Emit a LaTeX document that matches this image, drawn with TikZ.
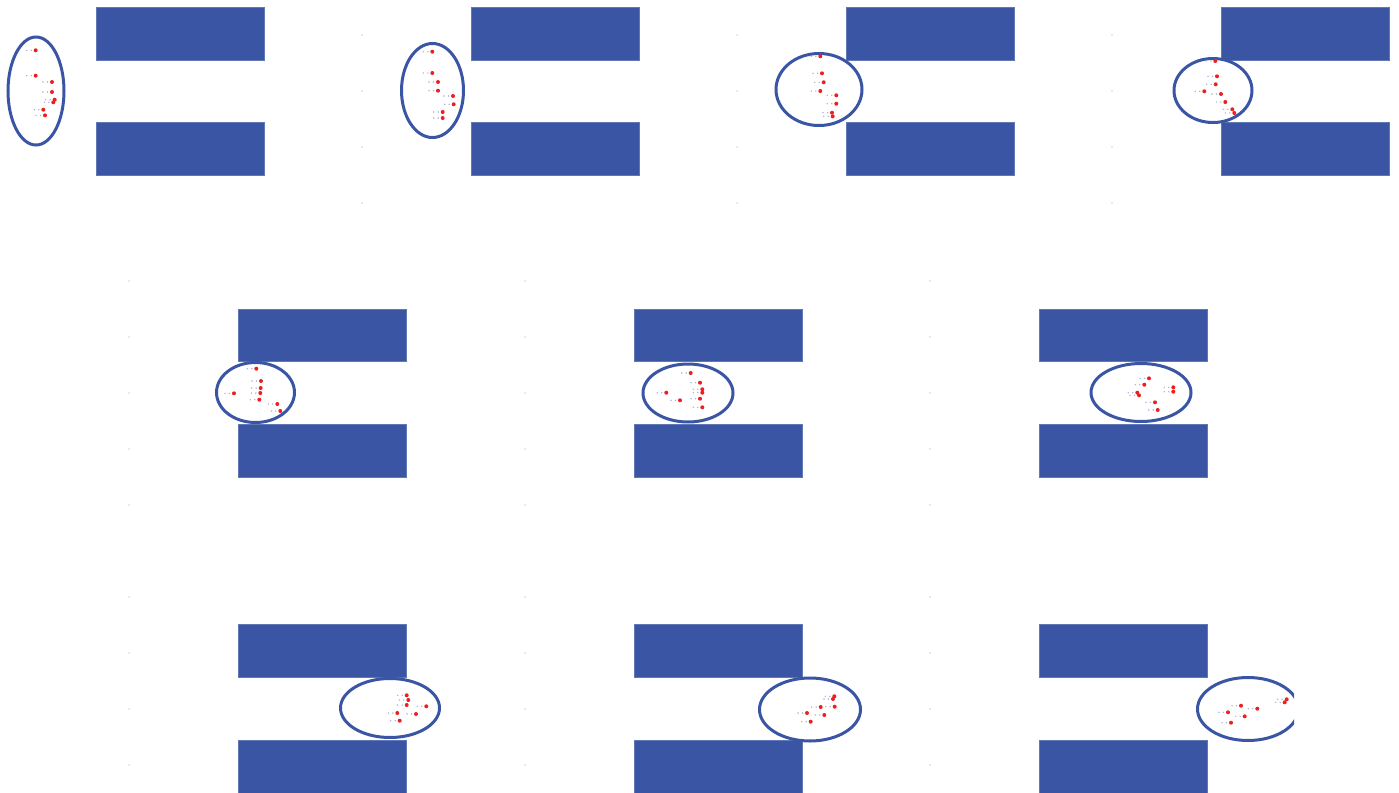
\documentclass[tikz,border=0pt]{standalone}
\definecolor{barblue}{RGB}{58,85,164}
\definecolor{dotred}{RGB}{240,30,30}
\definecolor{trailc}{RGB}{170,178,215}
\definecolor{tickc}{RGB}{165,165,165}
\tikzset{
  bar/.style={fill=barblue,draw=barblue!80!white,line width=0.4pt},
  ring/.style={draw=barblue,line width=1.5pt},
  reddot/.style={fill=dotred},
  traildot/.style={fill=trailc},
  tick/.style={fill=tickc}
}
\newcommand{\pp}[2]{%
  \fill[traildot] (#1-4.5,#2) circle (0.8);
  \fill[traildot] (#1-9,#2) circle (0.8);
  \fill[reddot] (#1,#2) circle (2);}
\begin{document}
\begin{tikzpicture}[x=0.5pt,y=-0.5pt]
\useasboundingbox (0,0) rectangle (1399,793);
% ---------- row 1 ----------
\foreach \bx in {96,471,846,1221}{
  \fill[bar] (\bx,7) rectangle (\bx+168,60);
  \fill[bar] (\bx,122) rectangle (\bx+168,175);
}
\foreach \tx in {362,737,1112}{
  \foreach \ty in {35,91,147,203}{\fill[tick] (\tx,\ty) circle (0.7);}
}
\draw[ring] (36,91) ellipse (28 and 54);
\draw[ring] (432.5,90.5) ellipse (31 and 47);
\draw[ring] (819,89.5) ellipse (43 and 36);
\draw[ring] (1213,90.5) ellipse (39 and 32);
% panel 1 dots
\pp{35.7}{50.3}\pp{35.7}{75.7}\pp{52}{82}\pp{52}{92}\pp{54.7}{99.7}\pp{53.3}{102.3}\pp{43.3}{109.7}\pp{45}{115.3}
% panel 2 dots
\pp{432.3}{51.7}\pp{432.3}{73}\pp{438}{82}\pp{438}{90.7}\pp{453}{96}\pp{453.7}{104.3}\pp{442.7}{112}\pp{442.7}{118}
% panel 3 dots
\pp{820.3}{56.3}\pp{822}{73.3}\pp{823.7}{82.3}\pp{820.3}{91}\pp{836.3}{95.3}\pp{836.3}{103.7}\pp{832}{112.7}\pp{832.7}{116.3}
% panel 4 dots
\pp{1215.3}{61}\pp{1217}{76.3}\pp{1215.7}{84.3}\pp{1204.3}{91.3}\pp{1221}{94}\pp{1225.3}{102}\pp{1232.3}{109.3}\pp{1234.3}{113}
% ---------- rows 2 and 3 ----------
\foreach \bx in {238,634,1039}{
  \fill[bar] (\bx,309) rectangle (\bx+168,361);
  \fill[bar] (\bx,424) rectangle (\bx+168,477);
  \fill[bar] (\bx,624) rectangle (\bx+168,677);
  \fill[bar] (\bx,740) rectangle (\bx+168,793);
}
\foreach \tx in {129,525,930}{
  \foreach \ty in {281,337,393,449,505,597,653,709,765}{\fill[tick] (\tx,\ty) circle (0.7);}
}
\draw[ring] (255.5,392.5) ellipse (39 and 30);
\draw[ring] (688,393) ellipse (45 and 29);
\draw[ring] (1141,392.5) ellipse (50 and 29);
\draw[ring] (390,708) ellipse (49.5 and 29.5);
\draw[ring] (810,709.5) ellipse (50.5 and 31.5);
\begin{scope}
  \clip (1150,600) rectangle (1294,793);
  \draw[ring] (1248,709) ellipse (50.5 and 31.5);
\end{scope}
% panel 5 dots
\pp{256.3}{368.7}\pp{261}{381}\pp{260.7}{388}\pp{260.3}{393}\pp{259.3}{399.7}\pp{234}{393.3}\pp{277.3}{404}\pp{280.3}{411}
% panel 6 dots
\pp{690.7}{373}\pp{700}{382.7}\pp{702.3}{389.3}\pp{702.3}{392.7}\pp{666.3}{392.7}\pp{680}{400.3}\pp{700}{398.7}\pp{702.3}{407.3}
% panel 7 dots
\pp{1149}{378.3}\pp{1144.3}{384.7}\pp{1137.3}{392.7}\pp{1139}{395.3}\pp{1173.3}{387.3}\pp{1173.3}{391.7}\pp{1155}{402.3}\pp{1157.7}{410}
% panel 8 dots
\pp{406.7}{695.3}\pp{408.3}{700}\pp{406.7}{705}\pp{426.3}{706.3}\pp{397.3}{713}\pp{416}{714}\pp{399.7}{720.7}
% panel 9 dots
\pp{834.3}{696.3}\pp{833}{699}\pp{820.7}{707}\pp{834.7}{706.7}\pp{807}{713}\pp{824.3}{715}\pp{810.7}{721.7}
% panel 10 dots
\pp{1286.7}{699.3}\pp{1284.7}{702.3}\pp{1241}{705.7}\pp{1257.3}{708.7}\pp{1228}{712.3}\pp{1244.7}{716.3}\pp{1231}{722.7}
\end{tikzpicture}
\end{document}
